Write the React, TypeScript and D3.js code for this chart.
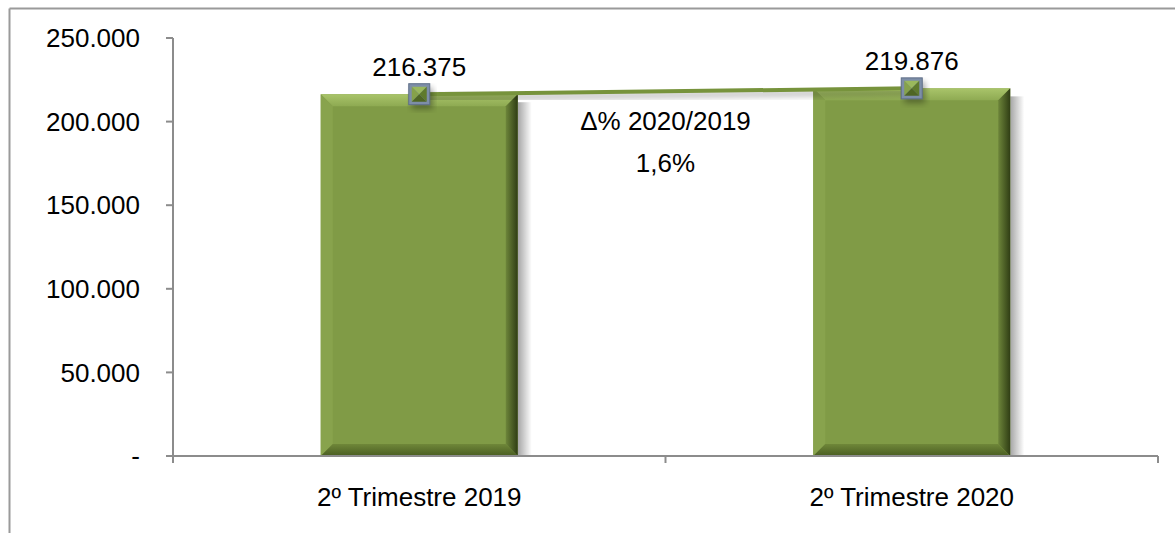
import React from 'react';
import * as d3 from 'd3';

// data
const categories = ['2º Trimestre 2019', '2º Trimestre 2020'];
const values = [216375, 219876];
const valueLabels = ['216.375', '219.876'];
const yTicks = [0, 50000, 100000, 150000, 200000, 250000];
const yTickLabels = ['-', '50.000', '100.000', '150.000', '200.000', '250.000'];
const noteLines = ['Δ% 2020/2019', '1,6%'];

const W = 1175;
const H = 533;
const plot = { left: 173, right: 1158, top: 38, bottom: 456 };
const font = '"Liberation Sans", Arial, sans-serif';
const fs = 26;

const App = () => {
  const x = d3.scaleBand<string>()
    .domain(categories)
    .range([plot.left, plot.right])
    .paddingInner(0.6)
    .paddingOuter(0.3);

  const y = d3.scaleLinear()
    .domain([0, 250000])
    .range([plot.bottom, plot.top]);

  const bw = x.bandwidth();
  const bev = 12; // bevel size of the bars

  const centers = categories.map(c => (x(c) as number) + bw / 2);
  const line = d3.line<number>()
    .x((_, i) => centers[i])
    .y(d => y(d));

  // ticks under the x axis: start, between categories, end
  const xTicks = [plot.left, (centers[0] + centers[1]) / 2, plot.right];

  return (
    <svg width={W} height={H} style={{ position: 'absolute', left: 0, top: 0 }}>
      <defs>
        <linearGradient id="shadowGrad" x1="0" x2="1" y1="0" y2="0">
          <stop offset="0" stopColor="#000" stopOpacity="0.35" />
          <stop offset="1" stopColor="#000" stopOpacity="0" />
        </linearGradient>
        <linearGradient id="topGrad" x1="0" x2="0" y1="0" y2="1">
          <stop offset="0" stopColor="#a9c46a" />
          <stop offset="1" stopColor="#8eaa52" />
        </linearGradient>
        <linearGradient id="rightGrad" x1="0" x2="1" y1="0" y2="0">
          <stop offset="0" stopColor="#6d853a" />
          <stop offset="1" stopColor="#2f3d14" />
        </linearGradient>
        <linearGradient id="bottomGrad" x1="0" x2="0" y1="0" y2="1">
          <stop offset="0" stopColor="#6f8739" />
          <stop offset="1" stopColor="#4a5d22" />
        </linearGradient>
        <filter id="blur" x="-20%" y="-20%" width="140%" height="140%">
          <feGaussianBlur stdDeviation="3" />
        </filter>
      </defs>

      <rect x={0} y={0} width={W} height={H} fill="#fff" />
      {/* chart frame (only top and left visible) */}
      <line x1={9.5} x2={W} y1={8.5} y2={8.5} stroke="#9a9a9a" strokeWidth={2} />
      <line x1={9.5} x2={9.5} y1={8.5} y2={H} stroke="#9a9a9a" strokeWidth={2} />

      {/* bars */}
      {categories.map((c, i) => {
        const x0 = x(c) as number;
        const x1 = x0 + bw;
        const y0 = y(values[i]);
        const y1 = y(0);
        return (
          <g key={c}>
            <rect x={x1} y={y0 + 8} width={14} height={y1 - y0 - 8} fill="url(#shadowGrad)" />
            <rect x={x0} y={y0} width={bw} height={y1 - y0} fill="#809b46" />
            <polygon points={`${x0},${y0} ${x1},${y0} ${x1 - bev},${y0 + bev} ${x0 + bev},${y0 + bev}`} fill="url(#topGrad)" />
            <polygon points={`${x0},${y0} ${x0 + bev},${y0 + bev} ${x0 + bev},${y1 - bev} ${x0},${y1}`} fill="#88a34d" />
            <polygon points={`${x1},${y0} ${x1},${y1} ${x1 - bev},${y1 - bev} ${x1 - bev},${y0 + bev}`} fill="url(#rightGrad)" />
            <polygon points={`${x0},${y1} ${x0 + bev},${y1 - bev} ${x1 - bev},${y1 - bev} ${x1},${y1}`} fill="url(#bottomGrad)" />
          </g>
        );
      })}

      {/* y axis */}
      <line x1={plot.left} x2={plot.left} y1={plot.top} y2={plot.bottom + 7} stroke="#8c8c8c" strokeWidth={2} />
      {yTicks.map((t, i) => (
        <g key={t}>
          <line x1={plot.left - 7} x2={plot.left} y1={y(t)} y2={y(t)} stroke="#8c8c8c" strokeWidth={2} />
          <text x={140} y={y(t)} dy="0.35em" textAnchor="end" fontFamily={font} fontSize={fs} fill="#000">
            {yTickLabels[i]}
          </text>
        </g>
      ))}

      {/* x axis */}
      <line x1={plot.left} x2={plot.right} y1={plot.bottom} y2={plot.bottom} stroke="#8c8c8c" strokeWidth={2} />
      {xTicks.map((t, i) => (
        <line key={i} x1={t} x2={t} y1={plot.bottom} y2={plot.bottom + 7} stroke="#8c8c8c" strokeWidth={2} />
      ))}
      {categories.map((c, i) => (
        <text key={c} x={centers[i]} y={506} textAnchor="middle" fontFamily={font} fontSize={fs} fill="#000">
          {c}
        </text>
      ))}

      {/* line series with shadow */}
      <path d={line(values) || ''} fill="none" stroke="#000" strokeOpacity={0.35} strokeWidth={4} transform="translate(2,4)" filter="url(#blur)" />
      <path d={line(values) || ''} fill="none" stroke="#77933c" strokeWidth={4} />

      {/* markers */}
      {values.map((v, i) => {
        const cx = centers[i];
        const cy = y(v);
        const s = 10.5;
        const inner = 7.5;
        return (
          <g key={i}>
            <rect x={cx - s + 3} y={cy - s + 4} width={2 * s} height={2 * s} fill="#000" opacity={0.35} filter="url(#blur)" />
            <rect x={cx - s} y={cy - s} width={2 * s} height={2 * s} fill="#7d8ea8" stroke="#5f6f88" strokeWidth={1} />
            <polygon points={`${cx - inner},${cy - inner} ${cx + inner},${cy - inner} ${cx},${cy}`} fill="#9ab85c" />
            <polygon points={`${cx - inner},${cy - inner} ${cx},${cy} ${cx - inner},${cy + inner}`} fill="#86a24a" />
            <polygon points={`${cx + inner},${cy - inner} ${cx + inner},${cy + inner} ${cx},${cy}`} fill="#5f7a2c" />
            <polygon points={`${cx - inner},${cy + inner} ${cx + inner},${cy + inner} ${cx},${cy}`} fill="#4f6624" />
            <text x={cx} y={cy - 18} textAnchor="middle" fontFamily={font} fontSize={fs} fill="#000">
              {valueLabels[i]}
            </text>
          </g>
        );
      })}

      {/* variation note */}
      {noteLines.map((t, i) => (
        <text key={t} x={(centers[0] + centers[1]) / 2} y={130 + i * 42} textAnchor="middle" fontFamily={font} fontSize={fs} fill="#000">
          {t}
        </text>
      ))}
    </svg>
  );
};

export default App;
